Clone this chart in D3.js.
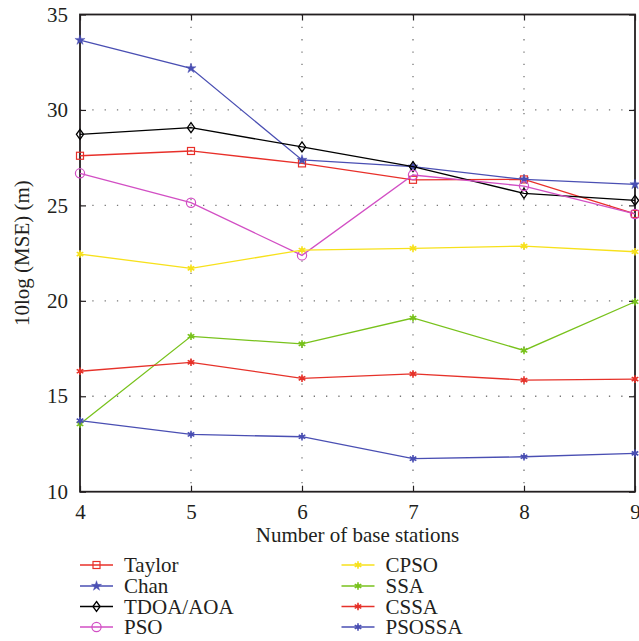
<!DOCTYPE html>
<html>
<head>
<meta charset="utf-8">
<script src="https://cdn.jsdelivr.net/npm/d3@7"></script>
<style>
  html, body { margin: 0; padding: 0; background: #fff; }
  svg { display: block; }
  text { font-family: "Liberation Serif", "DejaVu Serif", serif; fill: #231f20; }
</style>
</head>
<body>
<svg id="chart" width="639" height="641"></svg>
<script>
// Number of base stations
const stations = [4, 5, 6, 7, 8, 9];
const xTicks = [4, 5, 6, 7, 8, 9];
const yTicks = [10, 15, 20, 25, 30, 35];

// 10log(MSE) (m) for each method
const taylor = [27.6, 27.85, 27.2, 26.34, 26.36, 24.55];
const chan   = [33.66, 32.18, 27.38, 27.03, 26.36, 26.1];
const tdoa   = [28.72, 29.07, 28.06, 27.03, 25.63, 25.26];
const pso    = [26.68, 25.14, 22.38, 26.59, 26.01, 24.55];
const cpso   = [22.45, 21.7, 22.66, 22.75, 22.87, 22.57];
const ssa    = [13.55, 18.14, 17.74, 19.1, 17.4, 19.95];
const cssa   = [16.31, 16.78, 15.94, 16.17, 15.85, 15.9];
const psossa = [13.72, 13.0, 12.88, 11.73, 11.83, 12.01];

const seriesNames = ["Taylor", "Chan", "TDOA/AOA", "PSO", "CPSO", "SSA", "CSSA", "PSOSSA"];
const seriesValues = [taylor, chan, tdoa, pso, cpso, ssa, cssa, psossa];
const seriesColors = ["#e8302a", "#4a4fb3", "#000000", "#d24fc4", "#f7e11b", "#78c21c", "#e6322a", "#4a4fb3"];
const seriesMarkers = ["square", "star", "diamond", "circle", "aster", "aster", "aster", "aster"];

const series = seriesNames.map((name, i) => ({
  name, color: seriesColors[i], marker: seriesMarkers[i],
  values: seriesValues[i].map((v, j) => ({ x: stations[j], y: v }))
}));

const svg = d3.select("#chart");
const plot = { left: 80, right: 635, top: 14.5, bottom: 491.7 };
const fontSize = 21;

const x = d3.scaleLinear().domain([4, 9]).range([plot.left, plot.right]);
const y = d3.scaleLinear().domain([10, 35]).range([plot.bottom, plot.top]);

// dotted grid
const grid = svg.append("g");
grid.selectAll("line.gx").data(xTicks.slice(1, -1)).join("line")
  .attr("x1", d => x(d)).attr("x2", d => x(d))
  .attr("y1", plot.top).attr("y2", plot.bottom)
  .attr("stroke", "#777").attr("stroke-width", 1.3)
  .attr("stroke-dasharray", "1.3,11");
grid.selectAll("line.gy").data(yTicks.slice(1, -1)).join("line")
  .attr("x1", plot.left).attr("x2", plot.right)
  .attr("y1", d => y(d)).attr("y2", d => y(d))
  .attr("stroke", "#777").attr("stroke-width", 1.3)
  .attr("stroke-dasharray", "1.3,11");

// axes with inward ticks
const xAxis = svg.append("g").attr("transform", `translate(0,${plot.bottom})`)
  .call(d3.axisBottom(x).tickValues(xTicks).tickFormat(d3.format("d")).tickSizeInner(-6).tickSizeOuter(0).tickPadding(12));
const xAxisTop = svg.append("g").attr("transform", `translate(0,${plot.top})`)
  .call(d3.axisTop(x).tickValues(xTicks).tickSizeInner(-6).tickSizeOuter(0).tickFormat(""));
const yAxis = svg.append("g").attr("transform", `translate(${plot.left},0)`)
  .call(d3.axisLeft(y).tickValues(yTicks).tickFormat(d3.format("d")).tickSizeInner(-6).tickSizeOuter(0).tickPadding(12));
const yAxisRight = svg.append("g").attr("transform", `translate(${plot.right},0)`)
  .call(d3.axisRight(y).tickValues(yTicks).tickSizeInner(-6).tickSizeOuter(0).tickFormat(""));
[xAxis, xAxisTop, yAxis, yAxisRight].forEach(g => {
  g.select(".domain").remove();
  g.attr("font-family", null).attr("font-size", null);
  g.selectAll(".tick line").attr("stroke", "#231f20").attr("stroke-width", 1.2);
  g.selectAll("text").attr("font-size", fontSize).attr("fill", "#231f20");
});

// frame
svg.append("rect")
  .attr("x", plot.left).attr("y", plot.top)
  .attr("width", plot.right - plot.left).attr("height", plot.bottom - plot.top)
  .attr("fill", "none").attr("stroke", "#231f20").attr("stroke-width", 1.8);

// axis titles
svg.append("text")
  .attr("x", (plot.left + plot.right) / 2).attr("y", 542)
  .attr("text-anchor", "middle").attr("font-size", fontSize)
  .text("Number of base stations");
svg.append("text")
  .attr("transform", `translate(29,${(plot.top + plot.bottom) / 2}) rotate(-90)`)
  .attr("text-anchor", "middle").attr("font-size", fontSize)
  .text("10log (MSE) (m)");

// marker shapes
function drawMarker(g, type, color) {
  if (type === "square") {
    g.append("rect").attr("x", -3.5).attr("y", -3.5).attr("width", 7).attr("height", 7)
      .attr("fill", "none").attr("stroke", color).attr("stroke-width", 1.2);
  } else if (type === "star") {
    g.append("path").attr("d", d3.symbol(d3.symbolStar, 32)())
      .attr("fill", color).attr("stroke", color).attr("stroke-width", 0.4);
  } else if (type === "diamond") {
    g.append("path").attr("d", "M0,-5L3.6,0L0,5L-3.6,0Z")
      .attr("fill", "none").attr("stroke", color).attr("stroke-width", 1.3);
  } else if (type === "circle") {
    g.append("circle").attr("r", 4.6)
      .attr("fill", "none").attr("stroke", color).attr("stroke-width", 1.2);
  } else if (type === "aster") {
    const r = 3.8;
    [0, 60, 120].forEach(a => {
      const rad = (a + 90) * Math.PI / 180;
      g.append("line")
        .attr("x1", -r * Math.cos(rad)).attr("y1", -r * Math.sin(rad))
        .attr("x2", r * Math.cos(rad)).attr("y2", r * Math.sin(rad))
        .attr("stroke", color).attr("stroke-width", 1.6);
    });
    g.append("circle").attr("r", 2).attr("fill", color);
  }
}

// lines and markers
const line = d3.line().x(d => x(d.x)).y(d => y(d.y));
const lines = svg.append("g");
series.forEach(s => {
  const g = lines.append("g");
  g.append("path").datum(s.values).attr("d", line)
    .attr("fill", "none").attr("stroke", s.color).attr("stroke-width", 1.3);
  g.selectAll("g.m").data(s.values).join("g")
    .attr("transform", d => `translate(${x(d.x)},${y(d.y)})`)
    .each(function () { drawMarker(d3.select(this), s.marker, s.color); });
});

// legend in two columns
const legend = svg.append("g");
const rowY = [565, 586, 606.5, 627];
const colX = [80, 341.5];
series.forEach((s, i) => {
  const col = Math.floor(i / 4), row = i % 4;
  const g = legend.append("g").attr("transform", `translate(${colX[col]},${rowY[row]})`);
  g.append("line").attr("x1", 0).attr("x2", 33).attr("y1", 0).attr("y2", 0)
    .attr("stroke", s.color).attr("stroke-width", 1.3);
  const m = g.append("g").attr("transform", "translate(16.5,0)");
  drawMarker(m, s.marker, s.color);
  g.append("text").attr("x", 44).attr("y", 0).attr("dy", "0.35em")
    .attr("font-size", fontSize).text(s.name);
});
</script>
</body>
</html>
